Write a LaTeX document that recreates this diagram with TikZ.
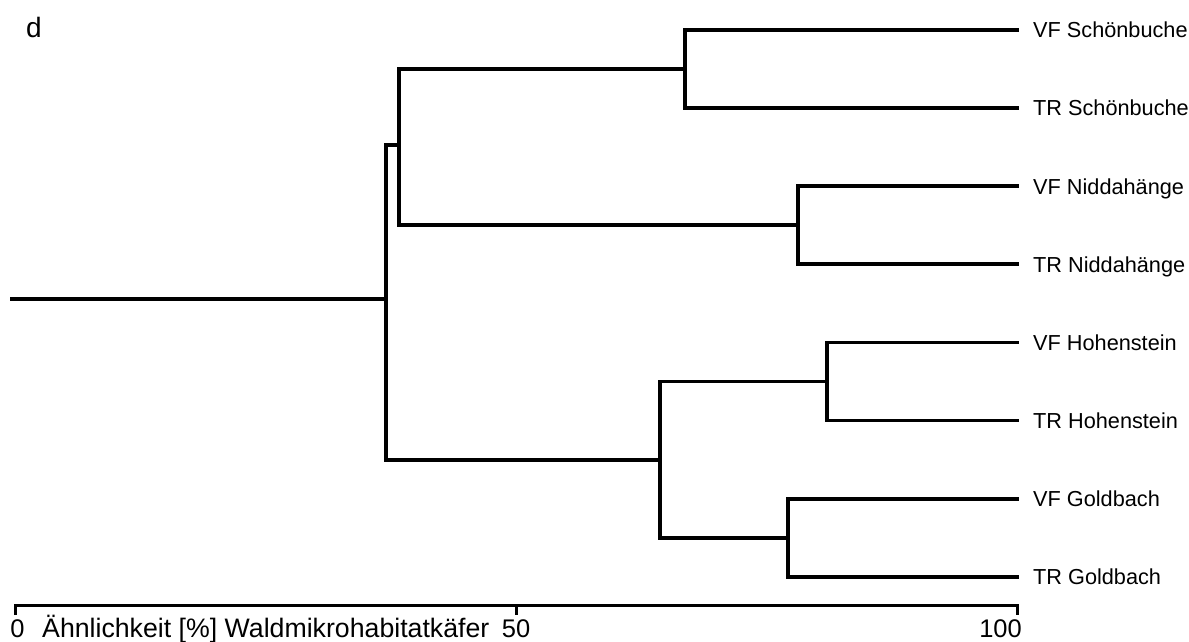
\documentclass[tikz,border=0pt]{standalone}
\usepackage{fontspec}
\setmainfont{Liberation Sans}
\begin{document}
\begin{tikzpicture}[x=1bp,y=-1bp,
  branch/.style={line width=3.8bp,line join=miter,line cap=rect},
  axisline/.style={line width=3bp,line join=miter},
  leaflabel/.style={anchor=base west,inner sep=0pt,font=\fontsize{21.7bp}{26bp}\selectfont},
  axislabel/.style={anchor=base,inner sep=0pt,font=\fontsize{25.5bp}{30bp}\selectfont}]
\useasboundingbox (0,0) rectangle (1189,642);
% leaf end points
\foreach \n/\y in {1/30,2/108,3/186.2,4/264.3,5/342.4,6/420.5,7/498.6,8/576.7}{
  \coordinate (l\n) at (1017,\y);
}
% leaf labels
\node[leaflabel] (t1) at (1033,38) {VF Schönbuche};
\node[leaflabel] (t2) at (1033,116) {TR Schönbuche};
\node[leaflabel] (t3) at (1033,194.2) {VF Niddahänge};
\node[leaflabel] (t4) at (1033,272.3) {TR Niddahänge};
\node[leaflabel] (t5) at (1033,350.4) {VF Hohenstein};
\node[leaflabel] (t6) at (1033,428.5) {TR Hohenstein};
\node[leaflabel] (t7) at (1033,506.6) {VF Goldbach};
\node[leaflabel] (t8) at (1033,584.7) {TR Goldbach};
% merge points
\coordinate (mS) at (685,69);
\coordinate (mN) at (798,225.2);
\coordinate (mH) at (827,381.5);
\coordinate (mG) at (788,537.7);
\coordinate (mSN) at (399,145);
\coordinate (mHG) at (660,460);
\coordinate (root) at (386,299);
\coordinate (start) at (12,299);
% clusters
\draw[branch] (l1) -| (685,108) -- (l2);
\draw[branch] (l3) -| (798,264.3) -- (l4);
\draw[branch] (l5) -| (827,420.5) -- (l6);
\draw[branch] (l7) -| (788,576.7) -- (l8);
\draw[branch] (mS) -| (399,225.2) -- (mN);
\draw[branch] (mH) -| (660,537.7) -- (mG);
\draw[branch] (mSN) -| (386,460) -- (mHG);
\draw[branch] (start) -- (root);
% axis
\coordinate (a0) at (15,605);
\coordinate (a50) at (516,605);
\coordinate (a100) at (1017,605);
\draw[axisline] (15,615) -- (a0) -- (a100) -- (1017,615);
\draw[axisline] (a50) -- (516,615);
\node[axislabel] (n0) at (17.5,637) {0};
\node[axislabel] (n50) at (516,637) {50};
\node[axislabel,anchor=base east] (n100) at (1022,637) {100};
\node[axislabel,anchor=base west,font=\fontsize{26.7bp}{30bp}\selectfont] (title) at (42,637) {Ähnlichkeit [\%] Waldmikrohabitatkäfer};
\node[axislabel,anchor=base west,font=\fontsize{28bp}{30bp}\selectfont] (d) at (26,38) {d};
\end{tikzpicture}
\end{document}
